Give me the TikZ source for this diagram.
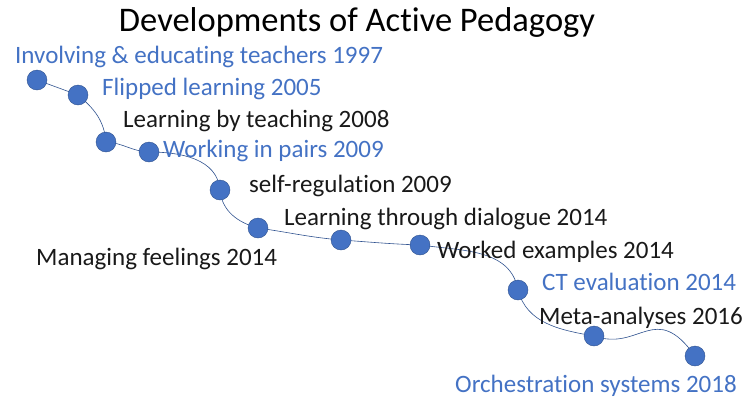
\documentclass[tikz,border=0pt]{standalone}
\usepackage{fontspec}
\setmainfont{Carlito}[Ligatures=NoCommon]
\definecolor{accent}{HTML}{4472C4}
\definecolor{accentdark}{HTML}{2F528F}

\begin{document}
\begin{tikzpicture}[x=1pt,y=-1pt,
					thin,
					main node/.style={circle,fill=accent,draw=accentdark,line width=0.4pt,minimum size=20pt,inner sep=0pt},
					label blue/.style={anchor=west,inner sep=0pt,text=accent,font=\fontsize{25}{30}\selectfont},
					label black/.style={anchor=west,inner sep=0pt,text=black!90,font=\fontsize{25}{30}\selectfont}]

  \useasboundingbox (0,0) rectangle (755,410);

  \node[font=\fontsize{34.5}{40}\selectfont] (title) at (357,22) {Developments of Active Pedagogy};

  % the path of milestones
  \coordinate (m1) at (37,80);
  \coordinate (m2) at (78,95);
  \coordinate (m3) at (106,142);
  \coordinate (m4) at (149,152);
  \coordinate (m5) at (220,190);
  \coordinate (m6) at (258,228);
  \coordinate (m7) at (341,240);
  \coordinate (m8) at (420,245);
  \coordinate (m9) at (518,290);
  \coordinate (m10) at (594,336);
  \coordinate (m11) at (695,356);

  \draw[accentdark,line width=0.6pt]
    (m1) to[out=-20,in=160] (m2)
         to[out=-40,in=95] (m3)
         to[out=-3,in=178] (m4)
         to[out=0,in=95] (m5)
         to[out=-85,in=165] (m6)
         to[out=-8,in=175] (m7)
         to[out=-4,in=178] (m8)
         to[out=-8,in=100] (m9)
         to[out=-75,in=170] (m10)
         .. controls (640,352) and (655,300) .. (m11);

  \foreach \i in {1,...,11}
    \node[main node] (dot\i) at (m\i) {};

  % labels
  \node[label blue]  (involving) at (15,57)   {Involving \& educating teachers 1997};
  \node[label blue]  (flipped)   at (102,89)  {Flipped learning 2005};
  \node[label black] (teaching)  at (123,121) {Learning by teaching 2008};
  \node[label blue]  (pairs)     at (163,151) {Working in pairs 2009};
  \node[label black] (selfreg)   at (249,186) {self-regulation 2009};
  \node[label black] (dialogue)  at (284,219) {Learning through dialogue 2014};
  \node[label black] (feelings)  at (36,259)  {Managing feelings 2014};
  \node[label black] (worked)    at (437,252) {Worked examples 2014};
  \node[label blue]  (ct)        at (542,282) {CT evaluation 2014};
  \node[label black] (meta)      at (539,318) {Meta-analyses 2016};
  \node[label blue]  (orch)      at (455,386) {Orchestration systems 2018};
\end{tikzpicture}
\end{document}
